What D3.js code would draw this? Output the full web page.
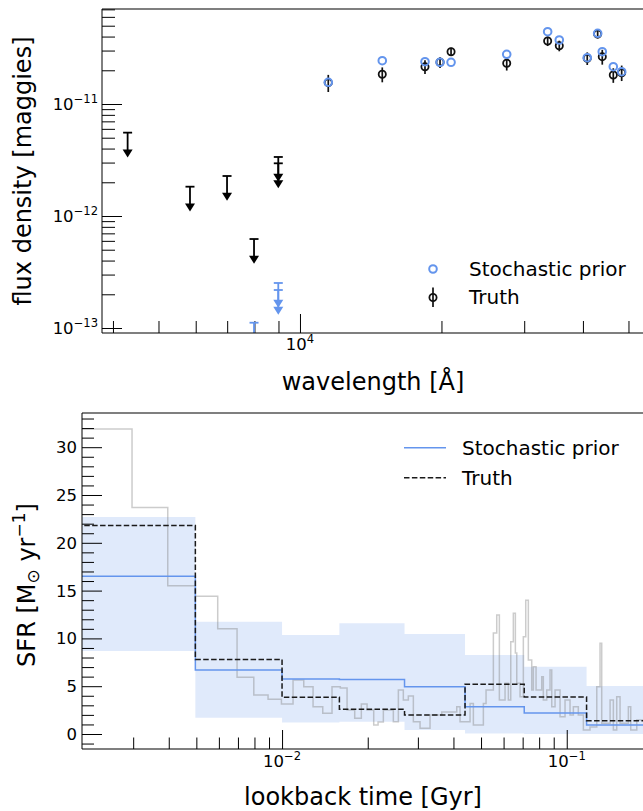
<!DOCTYPE html>
<html><head><meta charset="utf-8">
<script src="https://cdn.jsdelivr.net/npm/d3@7"></script>
<style>body{margin:0;background:#fff}svg{display:block}text{font-family:"DejaVu Sans",sans-serif;fill:#000}</style>
</head><body><svg id="c" width="643" height="811"></svg>
<script>
// ---------- Top panel data: photometry ----------
const photWave  = [11487, 14966, 18450, 19861, 20963, 27536, 33651, 35623, 40853, 42992, 43976, 46415, 48361];
const priorFlux = [1.563e-11, 2.436e-11, 2.387e-11, 2.357e-11, 2.357e-11, 2.778e-11, 4.42e-11, 3.728e-11, 2.591e-11, 4.278e-11, 2.931e-11, 2.153e-11, 1.943e-11];
const truthFlux = [1.55e-11, 1.842e-11, 2.153e-11, 2.357e-11, 2.931e-11, 2.309e-11, 3.652e-11, 3.315e-11, 2.559e-11, 4.217e-11, 2.645e-11, 1.815e-11, 1.903e-11];
const truthErr  = [0.27e-11, 0.28e-11, 0.3e-11, 0.26e-11, 0.25e-11, 0.32e-11, 0.36e-11, 0.36e-11, 0.33e-11, 0.37e-11, 0.4e-11, 0.27e-11, 0.3e-11];
const truthLimWave = [4298, 5834, 6995, 7984, 8992, 8992];
const truthLim     = [5.55e-12, 1.827e-12, 2.276e-12, 6.23e-13, 3.365e-12, 2.954e-12];
const priorLimWave = [7984, 8992, 8992];
const priorLim     = [1.115e-13, 2.523e-13, 2.184e-13];
const fluxMajorTicks = [1e-13, 1e-12, 1e-11];
const waveMajorTicks = [1e4];
const legendLabels = ["Stochastic prior", "Truth"];

// ---------- Bottom panel data: SFH ----------
const binEdges    = [0.001, 0.00496, 0.01, 0.0159, 0.02693, 0.04393, 0.07091, 0.1174, 0.2];
const priorMedian = [16.5, 6.7, 5.75, 5.7, 4.95, 2.86, 2.2, 0.94];
const priorLo     = [8.68, 1.7, 1.2, 1.29, 0.42, 0.05, 0.0, 0.0];
const priorHi     = [22.7, 11.75, 10.35, 11.58, 10.46, 8.26, 7.04, 5.02];
const truthBinned = [21.8, 7.8, 3.84, 2.58, 1.99, 5.2, 3.87, 1.39];
const fineTime = [0.0015, 0.002972, 0.003968, 0.00496, 0.005943, 0.00695, 0.007957, 0.00893, 0.00995, 0.01093, 0.01192, 0.01285, 0.0139, 0.01498, 0.01602, 0.01692, 0.0180, 0.01899, 0.01989, 0.02099, 0.02174,
  0.02269, 0.0246, 0.02562, 0.02667, 0.02777, 0.02892, 0.03053, 0.0331, 0.03639, 0.04108, 0.04219, 0.04575, 0.04699, 0.05095, 0.05207, 0.05524, 0.05677, 0.05799, 0.06072, 0.06236, 0.06358, 0.06493, 0.066, 0.06675, 0.06855, 0.0704, 0.07178, 0.0733, 0.07534, 0.07633, 0.07802, 0.08169, 0.08275, 0.08506, 0.08736, 0.08858, 0.09098, 0.09473, 0.09863, 0.1027, 0.1055, 0.1098, 0.1144, 0.1207, 0.1275, 0.1309, 0.1327, 0.142, 0.1458, 0.1498, 0.1539, 0.1646, 0.1678, 0.1762, 0.2];
const fineSFR = [31.9, 23.7, 15.5, 14.4, 11.0, 5.93, 4.08, 3.63, 3.14, 5.65, 4.95, 2.86, 2.16, 4.95, 4.8, 2.5, 1.64, 3.14, 2.5, 0.94, 1.26,
  2.5, 1.29, 4.6, 3.56, 3.97, 1.29, 0.6, 1.99, 2.3, 2.86, 1.29, 3.2, 0.94, 3.2, 4.6, 10.56, 12.45, 3.56, 5.3, 3.56, 9.66, 12.63, 8.47, 5.3, 3.9, 10.18, 14.0, 7.74, 4.6, 7.04, 4.6, 6.0, 3.56, 4.6, 6.7, 2.86, 4.6, 1.81, 3.56, 1.99, 2.86, 1.99, 0.42, 0.73, 4.95, 9.49, 1.12, 3.56, 0.42, 3.9, 1.12, 2.86, 0.42, 1.46, 1.46];
const timeMajorTicks = [0.01, 0.1];
const sfrMajorTicks = [0, 5, 10, 15, 20, 25, 30];

const BLUE = "#6495ED";
const svg = d3.select("#c");
const defs = svg.append("defs");

function supText(g, x, y, base, exp, anchor, fs) {
  const t = g.append("text").attr("x", x).attr("y", y).attr("text-anchor", anchor).attr("font-size", fs);
  t.append("tspan").text(base);
  t.append("tspan").attr("font-size", fs * 0.7).attr("dy", -fs * 0.42).text(exp);
  return t;
}
function expStr(v) { const e = Math.round(Math.log10(v)); return (e < 0 ? "\u2212" : "") + Math.abs(e); }
function logMinors(dom) {
  const out = [];
  const lo = Math.floor(Math.log10(dom[0])), hi = Math.ceil(Math.log10(dom[1]));
  for (let e = lo; e <= hi; e++) for (let m = 2; m <= 9; m++) {
    const v = m * Math.pow(10, e);
    if (v >= dom[0] && v <= dom[1]) out.push(v);
  }
  return out;
}

// ================= TOP PANEL =================
const T = {l: 102, r: 644, t: 9, b: 333};
const xW = d3.scaleLog().domain([3791, 53950]).range([T.l, T.r]);
const yF = d3.scaleLog().domain([Math.pow(10, -13.0446), Math.pow(10, -10.1518)]).range([T.b, T.t]);

defs.append("clipPath").attr("id", "clipT").append("rect")
  .attr("x", T.l).attr("y", T.t).attr("width", T.r - T.l).attr("height", T.b - T.t);

const gT = svg.append("g");
const yMinT = logMinors(yF.domain());
gT.append("g").attr("transform", `translate(${T.l},0)`)
  .call(d3.axisRight(yF).tickValues(yMinT).tickSize(13).tickFormat(""))
  .call(g => g.select(".domain").remove());
gT.append("g").attr("transform", `translate(${T.l},0)`)
  .call(d3.axisRight(yF).tickValues(fluxMajorTicks).tickSize(20).tickFormat(""))
  .call(g => g.select(".domain").remove());
const xMinT = logMinors(xW.domain());
gT.append("g").attr("transform", `translate(0,${T.b})`)
  .call(d3.axisTop(xW).tickValues(xMinT).tickSize(12).tickFormat(""))
  .call(g => g.select(".domain").remove());
gT.append("g").attr("transform", `translate(0,${T.b})`)
  .call(d3.axisTop(xW).tickValues(waveMajorTicks).tickSize(19).tickFormat(""))
  .call(g => g.select(".domain").remove());
gT.selectAll(".tick line").attr("stroke", "#000").attr("stroke-width", 1);

fluxMajorTicks.forEach(v => supText(gT, 98, yF(v) + 6, "10", expStr(v), "end", 16.5));
waveMajorTicks.forEach(v => supText(gT, xW(v), 350, "10", expStr(v), "middle", 16.5));

const gTd = gT.append("g").attr("clip-path", "url(#clipT)");
function upperLimit(g, x, v, color) {
  const y0 = yF(v), y1 = yF(v * 0.6);
  g.append("line").attr("x1", x - 4.5).attr("x2", x + 4.5).attr("y1", y0).attr("y2", y0)
    .attr("stroke", color).attr("stroke-width", 1.8);
  g.append("line").attr("x1", x).attr("x2", x).attr("y1", y0).attr("y2", y1 - 6)
    .attr("stroke", color).attr("stroke-width", 1.8);
  g.append("path").attr("d", `M${x - 5},${y1 - 8}L${x + 5},${y1 - 8}L${x},${y1}Z`).attr("fill", color);
}
truthLim.forEach((v, i) => upperLimit(gTd, xW(truthLimWave[i]), v, "#000"));
priorLim.forEach((v, i) => upperLimit(gTd, xW(priorLimWave[i]), v, BLUE));

truthFlux.forEach((v, i) => {
  const x = xW(photWave[i]);
  gTd.append("line").attr("x1", x).attr("x2", x)
    .attr("y1", yF(v + truthErr[i])).attr("y2", yF(v - truthErr[i]))
    .attr("stroke", "#111").attr("stroke-width", 1.7);
  gTd.append("circle").attr("cx", x).attr("cy", yF(v)).attr("r", 3.6)
    .attr("fill", "none").attr("stroke", "#111").attr("stroke-width", 1.8);
});
priorFlux.forEach((v, i) => {
  gTd.append("circle").attr("cx", xW(photWave[i])).attr("cy", yF(v)).attr("r", 3.8)
    .attr("fill", "none").attr("stroke", BLUE).attr("stroke-width", 2);
});

gT.append("line").attr("x1", T.l).attr("x2", T.r).attr("y1", T.t).attr("y2", T.t).attr("stroke", "#000").attr("stroke-width", 1.2);
gT.append("line").attr("x1", T.l).attr("x2", T.r).attr("y1", T.b).attr("y2", T.b).attr("stroke", "#000").attr("stroke-width", 1.2);
gT.append("line").attr("x1", T.l).attr("x2", T.l).attr("y1", T.t).attr("y2", T.b).attr("stroke", "#000").attr("stroke-width", 1);

gT.append("text").attr("transform", `translate(31,${(T.t + T.b) / 2}) rotate(-90)`)
  .attr("text-anchor", "middle").attr("font-size", 24).text("flux density [maggies]");
gT.append("text").attr("x", (T.l + T.r) / 2).attr("y", 390).attr("text-anchor", "middle")
  .attr("font-size", 24).text("wavelength [\u00C5]");

const lgT = gT.append("g");
lgT.append("circle").attr("cx", 433).attr("cy", 269).attr("r", 3.8).attr("fill", "none").attr("stroke", BLUE).attr("stroke-width", 2);
lgT.append("line").attr("x1", 433).attr("x2", 433).attr("y1", 287.5).attr("y2", 307).attr("stroke", "#111").attr("stroke-width", 1.7);
lgT.append("circle").attr("cx", 433).attr("cy", 297.5).attr("r", 3.6).attr("fill", "none").attr("stroke", "#111").attr("stroke-width", 1.8);
lgT.append("text").attr("x", 469).attr("y", 276).attr("font-size", 20).text(legendLabels[0]);
lgT.append("text").attr("x", 469).attr("y", 304).attr("font-size", 20).text(legendLabels[1]);

// ================= BOTTOM PANEL =================
const B = {l: 82, r: 644, t: 413, b: 749};
const xT = d3.scaleLog().domain([0.001983, 0.1868]).range([B.l, B.r]);
const yS = d3.scaleLinear().domain([-1.569, 33.577]).range([B.b, B.t]);

defs.append("clipPath").attr("id", "clipB").append("rect")
  .attr("x", B.l).attr("y", B.t).attr("width", B.r - B.l).attr("height", B.b - B.t);

const gB = svg.append("g");
const gBd = gB.append("g").attr("clip-path", "url(#clipB)");

const stepPts = vals => vals.map((v, i) => [binEdges[i], v]).concat([[binEdges[binEdges.length - 1], vals[vals.length - 1]]]);

const bandData = binEdges.map((e, i) => ({t: e, lo: priorLo[Math.min(i, priorLo.length - 1)], hi: priorHi[Math.min(i, priorHi.length - 1)]}));
gBd.append("path").datum(bandData)
  .attr("d", d3.area().curve(d3.curveStepAfter).x(d => xT(d.t)).y0(d => yS(d.lo)).y1(d => yS(d.hi)))
  .attr("fill", BLUE).attr("fill-opacity", 0.2);

const finePts = fineTime.map((t, i) => [t, fineSFR[i]]);
gBd.append("path").datum(finePts)
  .attr("d", d3.line().curve(d3.curveStepAfter).x(d => xT(d[0])).y(d => yS(d[1])))
  .attr("fill", "none").attr("stroke", "#808080").attr("stroke-opacity", 0.4).attr("stroke-width", 1.5);

gBd.append("path").datum(stepPts(priorMedian))
  .attr("d", d3.line().curve(d3.curveStepAfter).x(d => xT(d[0])).y(d => yS(d[1])))
  .attr("fill", "none").attr("stroke", BLUE).attr("stroke-width", 1.5);
gBd.append("path").datum(stepPts(truthBinned))
  .attr("d", d3.line().curve(d3.curveStepAfter).x(d => xT(d[0])).y(d => yS(d[1])))
  .attr("fill", "none").attr("stroke", "#1a1a1a").attr("stroke-width", 1.5).attr("stroke-dasharray", "5.5,2.4");

const sfrMinor = d3.range(-1, 34).filter(v => v % 5 !== 0);
gB.append("g").attr("transform", `translate(${B.l},0)`)
  .call(d3.axisRight(yS).tickValues(sfrMinor).tickSize(12).tickFormat(""))
  .call(g => g.select(".domain").remove());
gB.append("g").attr("transform", `translate(${B.l},0)`)
  .call(d3.axisRight(yS).tickValues(sfrMajorTicks).tickSize(20).tickFormat(""))
  .call(g => g.select(".domain").remove());
const tMinor = logMinors(xT.domain()).filter(v => xT(v) > B.l + 2);
gB.append("g").attr("transform", `translate(0,${B.b})`)
  .call(d3.axisTop(xT).tickValues(tMinor).tickSize(11.5).tickFormat(""))
  .call(g => g.select(".domain").remove());
gB.append("g").attr("transform", `translate(0,${B.b})`)
  .call(d3.axisTop(xT).tickValues(timeMajorTicks).tickSize(19).tickFormat(""))
  .call(g => g.select(".domain").remove());
gB.selectAll(".tick line").attr("stroke", "#000").attr("stroke-width", 1);

sfrMajorTicks.forEach(v => gB.append("text").attr("x", 77).attr("y", yS(v) + 6)
  .attr("text-anchor", "end").attr("font-size", 16.5).text(v));
timeMajorTicks.forEach(v => supText(gB, xT(v), 767, "10", expStr(v), "middle", 16.5));

gB.append("line").attr("x1", B.l).attr("x2", B.r).attr("y1", B.t).attr("y2", B.t).attr("stroke", "#000").attr("stroke-width", 1.2);
gB.append("line").attr("x1", B.l).attr("x2", B.r).attr("y1", B.b).attr("y2", B.b).attr("stroke", "#000").attr("stroke-width", 1.2);
gB.append("line").attr("x1", B.l).attr("x2", B.l).attr("y1", B.t).attr("y2", B.b).attr("stroke", "#000").attr("stroke-width", 1);

const yl = gB.append("text").attr("transform", `translate(35,${(B.t + B.b) / 2 + 4}) rotate(-90)`)
  .attr("text-anchor", "middle").attr("font-size", 24);
yl.append("tspan").text("SFR [M");
yl.append("tspan").attr("font-size", 17).attr("dy", 4).text("\u2299");
yl.append("tspan").attr("dy", -4).text(" yr");
yl.append("tspan").attr("font-size", 17).attr("dy", -10).text("\u22121");
yl.append("tspan").attr("dy", 10).text("]");
gB.append("text").attr("x", (B.l + B.r) / 2).attr("y", 805).attr("text-anchor", "middle")
  .attr("font-size", 24).text("lookback time [Gyr]");

const lgB = gB.append("g");
lgB.append("line").attr("x1", 404).attr("x2", 446).attr("y1", 447.7).attr("y2", 447.7).attr("stroke", BLUE).attr("stroke-width", 1.5);
lgB.append("line").attr("x1", 404).attr("x2", 446).attr("y1", 477.7).attr("y2", 477.7).attr("stroke", "#1a1a1a").attr("stroke-width", 1.5).attr("stroke-dasharray", "5.5,2.4");
lgB.append("text").attr("x", 462).attr("y", 455).attr("font-size", 20).text(legendLabels[0]);
lgB.append("text").attr("x", 462).attr("y", 485).attr("font-size", 20).text(legendLabels[1]);
</script></body></html>
